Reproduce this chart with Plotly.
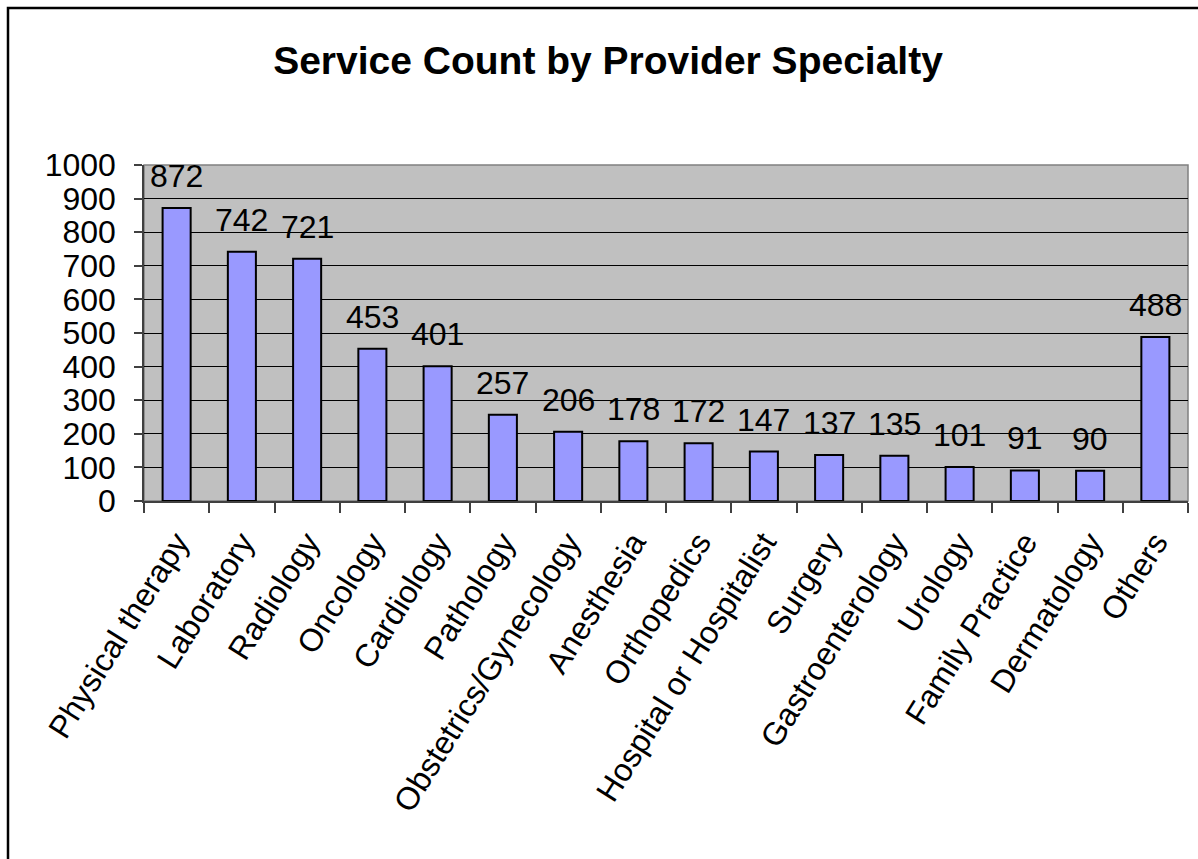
import plotly.graph_objects as go

categories = ["Physical therapy", "Laboratory", "Radiology", "Oncology", "Cardiology",
              "Pathology", "Obstetrics/Gynecology", "Anesthesia", "Orthopedics",
              "Hospital or Hospitalist", "Surgery", "Gastroenterology", "Urology",
              "Family Practice", "Dermatology", "Others"]
counts = [872, 742, 721, 453, 401, 257, 206, 178, 172, 147, 137, 135, 101, 91, 90, 488]
y_ticks = [0, 100, 200, 300, 400, 500, 600, 700, 800, 900, 1000]

W, H = 1198, 859
L, R, T, B = 144, 1188, 165, 501  # plot area in pixels
FONT = "Liberation Sans, Arial, sans-serif"
FS = 32

fig = go.Figure()
fig.add_trace(go.Bar(
    x=categories, y=counts,
    marker=dict(color="#9999FF", line=dict(color="black", width=2)),
    width=0.43,
    hoverinfo="x+y",
))

for c, v in zip(categories, counts):
    fig.add_annotation(x=c, y=v, text=str(v), showarrow=False, yanchor="bottom",
                       yshift=12, font=dict(family=FONT, size=FS, color="black"))

pw, ph = R - L, B - T
def px(x): return (x - L) / pw
def py(y): return (B - y) / ph

# outer chart border (extends beyond the image on right/bottom)
fig.add_shape(type="rect", xref="paper", yref="paper",
              x0=px(8), x1=px(W + 10), y0=py(H + 10), y1=py(8),
              line=dict(color="black", width=2.5), layer="below")
# plot area border (gray)
fig.add_shape(type="rect", xref="paper", yref="paper",
              x0=0, x1=1, y0=0, y1=1, line=dict(color="#808080", width=1.5), layer="below")

fig.update_layout(
    width=W, height=H,
    margin=dict(l=L, r=W - R, t=T, b=H - B, pad=0),
    paper_bgcolor="white", plot_bgcolor="#C0C0C0",
    showlegend=False,
    title=dict(text="<b>Service Count by Provider Specialty</b>", xref="container",
               x=608 / W, xanchor="center", yref="container", y=1 - 60 / H, yanchor="middle",
               font=dict(family=FONT, size=39, color="black")),
    font=dict(family=FONT, size=FS, color="black"),
)
fig.update_xaxes(
    type="category", tickson="boundaries", ticks="outside", ticklen=10, tickwidth=1.5,
    tickcolor="#404040", showline=True, linecolor="#404040", linewidth=1.5,
    tickangle=-58, tickfont=dict(family=FONT, size=FS, color="black"),
    ticklabelstandoff=8, showgrid=False, zeroline=False,
)
fig.update_yaxes(
    range=[0, 1000], tickvals=y_ticks, ticks="outside", ticklen=8, tickwidth=1.5,
    tickcolor="#404040", showline=True, linecolor="#404040", linewidth=1.5,
    showgrid=True, gridcolor="black", gridwidth=1, zeroline=False,
    tickfont=dict(family=FONT, size=FS, color="black"), ticklabelstandoff=12,
)

fig.write_html("out.html")
